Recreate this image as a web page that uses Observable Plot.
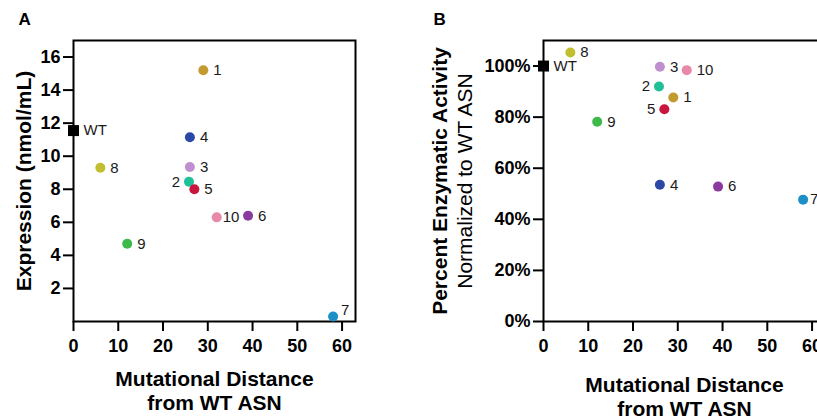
<!DOCTYPE html>
<html>
<head>
<meta charset="utf-8">
<script src="https://cdn.jsdelivr.net/npm/d3@7"></script>
<script src="https://cdn.jsdelivr.net/npm/@observablehq/plot@0.6"></script>
<style>
  html, body { margin: 0; padding: 0; background: #fff; }
  body { width: 817px; height: 416px; overflow: hidden; position: relative; }
  .panel { position: absolute; top: 0; }
  .panel svg { max-width: none !important; }
</style>
</head>
<body>
<div id="a" class="panel" style="left:0px;width:410px"></div>
<div id="b" class="panel" style="left:410px;width:430px"></div>
<script>
// ---- data ----
const names = ["WT", "1", "2", "3", "4", "5", "6", "7", "8", "9", "10"];
const distance = [0, 29, 25.8, 26, 26, 27, 39, 58, 6, 12, 32];
const expression = [11.55, 15.2, 8.45, 9.35, 11.15, 8.0, 6.4, 0.3, 9.3, 4.7, 6.3];
const activity = [100, 87.7, 92.0, 99.7, 53.5, 83.1, 52.8, 47.7, 105.3, 78.2, 98.4];
const colors = ["#000000", "#c39a2f", "#1fbf97", "#c08fcf", "#2b48a6", "#c8163f", "#8b3a9f", "#1b8fc6", "#bfbf30", "#3dba4a", "#e889a9"];
const xTicks = [0, 10, 20, 30, 40, 50, 60];
const yTicksA = [2, 4, 6, 8, 10, 12, 14, 16];
const yTicksB = [0, 20, 40, 60, 80, 100];

const rows = names.map((n, i) => ({name: n, distance: distance[i], expression: expression[i], activity: activity[i]}));

// label placement (styling only)
const labelA = {"2": {anchor: "end", dx: -9}, "7": {dx: 8, dy: -6}, "10": {dx: 6}};
const labelB = {"2": {anchor: "end", dx: -9}, "5": {anchor: "end", dx: -9}, "7": {dx: 7}};

const font = "'Liberation Sans', Arial, Helvetica, sans-serif";

function labels(yField, cfg) {
  return rows.map(r => {
    const c = cfg[r.name] || {};
    return Plot.text([r], {
      x: "distance", y: yField, text: "name",
      dx: c.dx ?? 10, dy: c.dy ?? 0,
      textAnchor: c.anchor || "start",
      fontSize: 15, fontWeight: "normal", fill: "#1a1a1a"
    });
  });
}

function panel(opts) {
  return Plot.plot({
    width: opts.width, height: 416,
    marginLeft: opts.marginLeft, marginRight: opts.marginRight, marginTop: 40, marginBottom: 95,
    style: {fontFamily: font, fontSize: "18px", fontWeight: "bold", color: "#000", background: "transparent", overflow: "visible", maxWidth: "none"},
    x: {domain: [0, 63]},
    y: {domain: opts.yDomain},
    color: {domain: names, range: colors},
    marks: [
      Plot.frame({stroke: "#000", strokeWidth: 2}),
      Plot.axisX({ticks: xTicks, tickSize: 10, tickPadding: 8, strokeWidth: 2, label: null}),
      Plot.axisY({ticks: opts.yTicks, tickSize: 10, tickPadding: 3, strokeWidth: 2, label: null, tickFormat: opts.tickFormat}),
      Plot.dot(rows.filter(d => d.name !== "WT"), {x: "distance", y: opts.yField, fill: "name", r: 5}),
      Plot.dot(rows.filter(d => d.name === "WT"), {x: "distance", y: opts.yField, symbol: "square", fill: "#000", r: 6.2}),
      ...labels(opts.yField, opts.labelCfg),
      Plot.text([opts.letter], {text: d => d, frameAnchor: "top-left", dx: opts.letterDx, dy: -16, lineAnchor: "bottom", textAnchor: "start", fontSize: 17, fontWeight: "bold"}),
      Plot.text(["Mutational Distance\nfrom WT ASN"], {text: d => d, frameAnchor: "bottom", dy: opts.xTitleDy, lineAnchor: "top", textAnchor: "middle", lineHeight: 1.143, fontSize: 21, fontWeight: "bold"}),
      ...opts.yTitles
    ]
  });
}

document.getElementById("a").append(panel({
  width: 410, marginLeft: 73, marginRight: 55,
  yDomain: [0, 17], yTicks: yTicksA, yField: "expression", tickFormat: d => d,
  labelCfg: labelA, letter: "A", letterDx: -55, xTitleDy: 47,
  yTitles: [
    Plot.text(["Expression (nmol/mL)"], {text: d => d, frameAnchor: "left", rotate: -90, dx: -43, textAnchor: "middle", lineAnchor: "bottom", fontSize: 21, fontWeight: "bold"})
  ]
}));

document.getElementById("b").append(panel({
  width: 430, marginLeft: 133, marginRight: 15,
  yDomain: [0, 110], yTicks: yTicksB, yField: "activity", tickFormat: d => d + "%",
  labelCfg: labelB, letter: "B", letterDx: -110, xTitleDy: 53,
  yTitles: [
    Plot.text(["Percent Enzymatic Activity"], {text: d => d, frameAnchor: "left", rotate: -90, dx: -97, textAnchor: "middle", lineAnchor: "bottom", fontSize: 21, fontWeight: "bold"}),
    Plot.text(["Normalized to WT ASN"], {text: d => d, frameAnchor: "left", rotate: -90, dx: -72, textAnchor: "middle", lineAnchor: "bottom", fontSize: 21, fontWeight: "normal"})
  ]
}));
</script>
</body>
</html>
